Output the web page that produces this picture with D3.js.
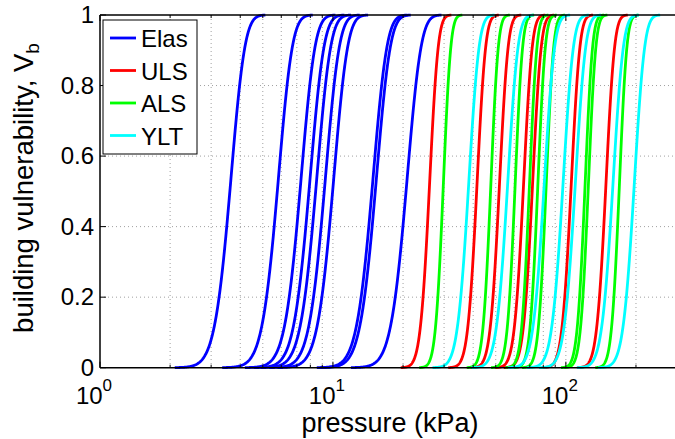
<!DOCTYPE html>
<html><head><meta charset="utf-8">
<script src="https://cdn.jsdelivr.net/npm/d3@7"></script>
<style>body{margin:0;background:#fff} svg{display:block} text{font-family:"Liberation Sans",Arial,Helvetica,sans-serif;fill:#000}</style>
</head><body><svg id="c" width="675" height="439"></svg>
<script>
// ---- data ----
const categories = ["Elas", "ULS", "ALS", "YLT"];
const seriesColors = ["#0000ff", "#ff0000", "#00ff00", "#00ffff"];
// median pressure (kPa) of each vulnerability curve
const elasMedian = [3.61, 5.77, 7.22, 7.89, 8.43, 9.18, 9.97, 14.7, 15.2, 20.6];
const ulsMedian  = [25.9, 41.4, 51.7, 65.6, 71.7, 105.1, 148.1];
const alsMedian  = [29.7, 47.5, 60.4, 69.6, 75.6, 82.1, 120.6, 124.6, 169.3];
const yltMedian  = [38.1, 56.0, 80.4, 96.8, 109.3, 158.6, 195.8];
// coefficient of variation of each group
const seriesCov = [0.12, 0.07, 0.06, 0.085];
const yTicks = [0, 0.2, 0.4, 0.6, 0.8, 1];
const yTickLabels = ["0", "0.2", "0.4", "0.6", "0.8", "1"];
const xMajor = [1, 10, 100];
const xMajorExp = ["0", "1", "2"];
const xGrid = [2,3,4,5,6,7,8,9,10,20,30,40,50,60,70,80,90,100,200,300];
const xDomain = [1, 300];

// ---- drawing ----
const svg = d3.select("#c");
const L = 100, T = 15, B = 367.7, R = 677;
const x = d3.scaleLog().domain(xDomain).range([L, R]);
const y = d3.scaleLinear().domain([0, 1]).range([B, T]);

function erf(z){
  const s = z < 0 ? -1 : 1; z = Math.abs(z);
  const t = 1/(1+0.3275911*z);
  const r = 1 - (((((1.061405429*t - 1.453152027)*t) + 1.421413741)*t - 0.284496736)*t + 0.254829592)*t*Math.exp(-z*z);
  return s*r;
}
const ncdf = (p, m, s) => 0.5*(1+erf((p-m)/(s*Math.SQRT2)));

svg.append("defs").append("clipPath").attr("id","clip")
  .append("rect").attr("x",L).attr("y",T-3).attr("width",R-L).attr("height",B-T+6);

// grid
const grid = svg.append("g").attr("stroke","#a0a0a0").attr("stroke-width",1).attr("stroke-dasharray","1,3");
grid.selectAll("line.gx").data(xGrid).join("line")
  .attr("x1",d=>x(d)).attr("x2",d=>x(d)).attr("y1",T).attr("y2",B);
grid.selectAll("line.gy").data(yTicks.slice(1,-1)).join("line")
  .attr("x1",L).attr("x2",R).attr("y1",d=>y(d)).attr("y2",d=>y(d));

// curves (each drawn over median ± 3.5 sd)
const groups = [elasMedian, ulsMedian, alsMedian, yltMedian];
const line = d3.line().x(d=>x(d[0])).y(d=>y(d[1]));
const curves = svg.append("g").attr("clip-path","url(#clip)").attr("fill","none").attr("stroke-width",2.8).attr("stroke-linejoin","round");
groups.forEach((meds, gi) => {
  meds.forEach(m => {
    const s = m*seriesCov[gi];
    const p0 = Math.max(xDomain[0], m - 3.5*s), p1 = m + 3.5*s;
    const pts = d3.range(0, 301).map(i => { const p = p0 + (p1-p0)*i/300; return [p, ncdf(p, m, s)]; });
    curves.append("path").attr("stroke", seriesColors[gi]).attr("d", line(pts));
  });
});

// axes box (left, top, bottom)
const ax = svg.append("g").attr("stroke","#000").attr("stroke-width",1.5);
ax.append("line").attr("x1",L).attr("x2",R).attr("y1",B).attr("y2",B);
ax.append("line").attr("x1",L).attr("x2",R).attr("y1",T).attr("y2",T);
ax.append("line").attr("x1",L).attr("x2",L).attr("y1",T).attr("y2",B);

// ticks inside
const tk = svg.append("g").attr("stroke","#000").attr("stroke-width",1);
tk.selectAll("line.xt").data(xGrid.concat([1])).join("line")
  .attr("x1",d=>x(d)).attr("x2",d=>x(d)).attr("y1",B).attr("y2",d=> xMajor.includes(d)? B-6 : B-3);
tk.selectAll("line.xt2").data(xGrid.concat([1])).join("line")
  .attr("x1",d=>x(d)).attr("x2",d=>x(d)).attr("y1",T).attr("y2",d=> xMajor.includes(d)? T+6 : T+3);
tk.selectAll("line.yt").data(yTicks).join("line")
  .attr("x1",L).attr("x2",L+6).attr("y1",d=>y(d)).attr("y2",d=>y(d));

// y tick labels
svg.append("g").selectAll("text").data(yTicks).join("text")
  .attr("x", L-6).attr("y", d=>y(d)+8).attr("text-anchor","end")
  .attr("font-size",24).text((d,i)=>yTickLabels[i]);

// x tick labels
const xl = svg.append("g").selectAll("text").data(xMajor).join("text")
  .attr("x", d=>x(d)-6).attr("y", 404).attr("text-anchor","middle").attr("font-size",24);
xl.append("tspan").text("10");
xl.append("tspan").attr("dy",-13).attr("font-size",17).text((d,i)=>xMajorExp[i]);

// axis labels
svg.append("text").attr("x", 390).attr("y", 432).attr("text-anchor","middle").attr("font-size",27).text("pressure (kPa)");
const yl = svg.append("text").attr("transform","translate(33,188) rotate(-90)").attr("text-anchor","middle").attr("font-size",27.5);
yl.append("tspan").text("building vulnerability,  V");
yl.append("tspan").attr("dy",6).attr("font-size",19).text("b");

// legend
const lg = svg.append("g");
lg.append("rect").attr("x",103).attr("y",20).attr("width",94).attr("height",134).attr("fill","#fff").attr("stroke","#000").attr("stroke-width",1);
categories.forEach((c,i)=>{
  const yy = 38 + i*32.5;
  lg.append("line").attr("x1",110).attr("x2",136).attr("y1",yy).attr("y2",yy).attr("stroke",seriesColors[i]).attr("stroke-width",2.8);
  lg.append("text").attr("x",141).attr("y",yy+9).attr("font-size",24).text(c);
});
</script></body></html>
